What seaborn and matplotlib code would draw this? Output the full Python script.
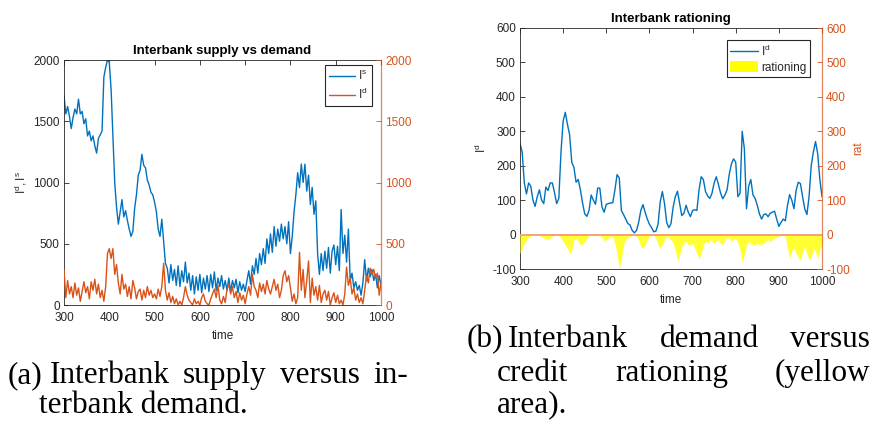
import numpy as np
import matplotlib
matplotlib.use("Agg")
import matplotlib.pyplot as plt
import seaborn as sns
from matplotlib.lines import Line2D
from matplotlib.patches import Patch

# ---- data -------------------------------------------------------------
# left panel series are sampled every 4 periods, right panel every 5
time_fine = np.arange(300, 1001, 4)
time = np.arange(300, 1001, 5)

supply_is = [
    1710, 1560, 1620, 1540, 1440, 1530, 1600, 1560, 1680, 1560,
    1580, 1480, 1520, 1380, 1420, 1340, 1380, 1300, 1240, 1360,
    1390, 1420, 1860, 1940, 2000, 1980, 1760, 1380, 1000, 800,
    660, 760, 860, 720, 770, 690, 620, 560, 600, 790,
    900, 1060, 1100, 1230, 1140, 1120, 1020, 980, 920, 900,
    840, 760, 620, 560, 700, 520, 340, 300, 180, 330,
    200, 290, 160, 320, 150, 280, 190, 350, 180, 260,
    120, 240, 90, 230, 120, 250, 100, 220, 130, 240,
    110, 250, 140, 270, 120, 220, 150, 240, 130, 200,
    120, 220, 110, 200, 140, 210, 100, 190, 120, 170,
    110, 200, 280, 170, 320, 250, 380, 260, 420, 330,
    460, 340, 540, 420, 580, 430, 640, 480, 620, 520,
    660, 540, 640, 500, 680, 420, 560, 760, 900, 1080,
    960, 1150, 1000, 1150, 930, 1060, 820, 960, 740, 850,
    420, 250, 420, 280, 440, 300, 470, 260, 440, 490,
    330, 480, 280, 780, 420, 570, 350, 620, 200, 260,
    140, 190, 120, 160, 80, 180, 370, 200, 300, 230,
    290, 200, 250, 140, 240, 160,
]

demand_id = [
    290, 60, 200, 90, 150, 60, 180, 80, 140, 30,
    110, 190, 100, 150, 50, 190, 120, 210, 90, 170,
    60, 120, 30, 150, 420, 460, 380, 460, 250, 330,
    180, 90, 250, 130, 170, 70, 150, 50, 200, 140,
    50, 110, 130, 40, 120, 60, 150, 80, 120, 60,
    90, 50, 130, 70, 150, 340, 120, 40, 100, 20,
    70, 10, 50, 0, 30, 0, 60, 150, 80, 40,
    20, 0, 50, 10, 30, 0, 60, 90, 30, 10,
    0, 50, 90, 130, 60, 160, 40, 10, 70, 20,
    130, 170, 90, 150, 60, 110, 20, 100, 40, 80,
    10, 90, 150, 80, 250, 150, 120, 60, 180, 110,
    170, 90, 200, 130, 90, 150, 210, 120, 170, 60,
    120, 240, 280, 190, 240, 140, 30, 90, 10, 60,
    430, 120, 290, 60, 200, 360, 20, 220, 80, 150,
    40, 160, 20, 90, 120, 40, 110, 0, 60, 100,
    20, 80, 10, 40, 0, 90, 310, 160, 220, 90,
    140, 40, 90, 20, 60, 10, 120, 240, 180, 300,
    250, 290, 220, 260, 80, 180,
]

demand_id_smooth = [
    265, 240, 150, 118, 150, 140, 100, 82, 110, 130,
    100, 90, 138, 128, 150, 150, 122, 90, 105, 240,
    330, 355, 320, 290, 210, 195, 152, 160, 130, 92,
    60, 53, 70, 115, 100, 88, 135, 135, 80, 65,
    88, 90, 92, 92, 130, 174, 165, 70, 58, 45,
    32, 28, 12, 5, 12, 35, 70, 87, 65, 45,
    30, 20, 8, 10, 30, 95, 125, 90, 35, 20,
    32, 80, 110, 126, 90, 55, 62, 85, 65, 52,
    70, 72, 70, 130, 168, 160, 125, 112, 105, 120,
    150, 168, 145, 120, 104, 115, 130, 175, 205, 220,
    210, 110, 120, 300, 250, 75, 140, 160, 115, 105,
    85, 60, 45, 58, 60, 52, 62, 65, 68, 45,
    24, 35, 45, 40, 85, 116, 100, 75, 128, 152,
    148, 110, 75, 58, 110, 200, 240, 270, 235, 160,
    110,
]

rationing = [
    -55, -40, -25, -15, -8, -3, -2, 0, -2, -3,
    -5, -10, -12, -15, -10, -5, -2, 0, -3, -10,
    -20, -30, -40, -55, -45, -15, -10, -20, -30, -28,
    -20, -12, -2, 0, -2, -5, 0, -3, -8, -18,
    -15, -10, -5, -8, -25, -60, -100, -70, -30, -15,
    -8, -5, -3, -2, -5, -15, -35, -40, -30, -15,
    -5, -2, -3, -10, -30, -40, -30, -15, -5, -8,
    -15, -25, -45, -75, -60, -35, -25, -20, -30, -30,
    -25, -40, -55, -70, -55, -30, -20, -25, -15, -20,
    -25, -20, -15, -25, -30, -15, -10, -8, -20, -15,
    -10, -25, -45, -80, -60, -30, -20, -25, -30, -30,
    -25, -30, -28, -25, -20, -15, -20, -15, -10, -8,
    -5, -3, -2, -5, -40, -70, -45, -40, -55, -65,
    -75, -50, -35, -55, -75, -65, -40, -50, -70, -40,
    -30,
]

x_ticks = [300, 400, 500, 600, 700, 800, 900, 1000]
left_y_ticks = [0, 500, 1000, 1500, 2000]
right_y_ticks = [-100, 0, 100, 200, 300, 400, 500, 600]

# ---- style ------------------------------------------------------------
BLUE = "#0072BD"
ORANGE = "#D95319"
YELLOW = "#FFFF33"
DARK = "#262626"

sns.set_style("white")
plt.rcParams["font.family"] = ["Liberation Sans", "DejaVu Sans"]
plt.rcParams["mathtext.fontset"] = "custom"
plt.rcParams["mathtext.rm"] = "Liberation Sans"
plt.rcParams["axes.unicode_minus"] = False

FS = 8.5

fig = plt.figure(figsize=(8.73, 4.23), dpi=100)
W, H = 873, 423


def box(x0, y0, x1, y1):
    return [x0 / W, 1 - y1 / H, (x1 - x0) / W, (y1 - y0) / H]


def style_main(ax):
    for s in ax.spines.values():
        s.set_color(DARK)
        s.set_linewidth(0.6)
    ax.spines["right"].set_visible(False)
    ax.tick_params(axis="both", direction="in", length=3.5, width=0.6,
                   top=True, right=False, colors=DARK, labelsize=FS, pad=3)
    ax.tick_params(axis="x", pad=5)


def style_twin(ax):
    for k in ("left", "top", "bottom"):
        ax.spines[k].set_visible(False)
    ax.spines["right"].set_color(ORANGE)
    ax.spines["right"].set_alpha(0.7)
    ax.spines["right"].set_linewidth(0.9)
    ax.tick_params(axis="y", direction="in", length=3.5, width=0.6,
                   colors=ORANGE, labelsize=FS, pad=3)


# ---- left panel: supply vs demand ----------------------------------------
axL = fig.add_axes(box(64, 60, 381, 305))
sns.lineplot(x=time_fine, y=supply_is, ax=axL, color=BLUE, lw=1.0,
             legend=False)
axL.set_xlim(300, 1000)
axL.set_ylim(0, 2000)
axL.set_xticks(x_ticks)
axL.set_yticks(left_y_ticks)
style_main(axL)
axL.set_title("Interbank supply vs demand", fontsize=9.5, fontweight="bold",
              color="black", pad=4)
axL.set_xlabel("time", fontsize=FS, color=DARK, labelpad=4)
axL.set_ylabel(r"$\mathregular{I^d,I^s}$", fontsize=FS, color=DARK, labelpad=3)

axLr = axL.twinx()
sns.lineplot(x=time_fine, y=demand_id, ax=axLr, color=ORANGE, lw=1.0,
             legend=False)
axLr.set_ylim(0, 2000)
axLr.set_yticks(left_y_ticks)
style_twin(axLr)
axLr.set_ylabel("")

legL = axLr.legend(
    [Line2D([], [], color=BLUE, lw=1.0), Line2D([], [], color=ORANGE, lw=1.0)],
    [r"$\mathregular{I^s}$", r"$\mathregular{I^d}$"],
    loc="upper right", bbox_to_anchor=(0.972, 0.98), borderaxespad=0,
    fontsize=FS, frameon=True, fancybox=False, framealpha=1, edgecolor=DARK,
    handlelength=2.2, handletextpad=0.3, borderpad=0.35, labelspacing=0.35,
)
legL.get_frame().set_linewidth(0.8)

# ---- right panel: demand and rationing -----------------------------------
axR = fig.add_axes(box(520, 28, 822, 269))
sns.lineplot(x=time, y=demand_id_smooth, ax=axR, color=BLUE, lw=1.0,
             legend=False)
axR.set_xlim(300, 1000)
axR.set_ylim(-100, 600)
axR.set_xticks(x_ticks)
axR.set_yticks(right_y_ticks)
style_main(axR)
axR.set_title("Interbank rationing", fontsize=9.5, fontweight="bold",
              color="black", pad=4)
axR.set_xlabel("time", fontsize=FS, color=DARK, labelpad=4)
axR.set_ylabel(r"$\mathregular{I^d}$", fontsize=FS, color=DARK, labelpad=2)

axRr = axR.twinx()
axRr.fill_between(time, rationing, 0, color=YELLOW, lw=0)
axRr.axhline(0, color="#F2A27E", lw=1.4)
axRr.set_ylim(-100, 600)
axRr.set_yticks(right_y_ticks)
style_twin(axRr)
axRr.set_ylabel("rat", fontsize=FS, color=ORANGE, labelpad=2)

legR = axRr.legend(
    [Line2D([], [], color=BLUE, lw=1.0), Patch(facecolor="#FFFF00", lw=0)],
    [r"$\mathregular{I^d}$", "rationing"],
    loc="upper right", bbox_to_anchor=(0.960, 0.95), borderaxespad=0,
    fontsize=FS, frameon=True, fancybox=False, framealpha=1, edgecolor=DARK,
    handlelength=2.3, handleheight=1.1, handletextpad=0.3, borderpad=0.3,
    labelspacing=0.2,
)
legR.get_frame().set_linewidth(0.8)

# ---- sub-captions (justified lines) ---------------------------------------
CAP = dict(family=["Liberation Serif", "DejaVu Serif"], fontsize=22.5,
           va="baseline", ha="left", color="black")
renderer = fig.canvas.get_renderer()


def caption_line(words, x0, y, x1=None):
    texts = [fig.text(x0 / W, 1 - y / H, w, **CAP) for w in words]
    if x1 is None or len(words) == 1:
        return
    widths = [t.get_window_extent(renderer).width for t in texts]
    gap = (x1 - x0 - sum(widths)) / (len(words) - 1)
    x = x0
    for t, w in zip(texts, widths):
        t.set_x(x / W)
        x += w + gap


caption_line(["(a)"], 8, 383)
caption_line(["Interbank", "supply", "versus", "in-"], 50, 383, 408)
caption_line(["terbank demand."], 39, 413)

caption_line(["(b)"], 467, 347)
caption_line(["Interbank", "demand", "versus"], 508, 347, 870)
caption_line(["credit", "rationing", "(yellow"], 497, 381, 870)
caption_line(["area)."], 497, 412)

fig.savefig("out.png", dpi=100)
